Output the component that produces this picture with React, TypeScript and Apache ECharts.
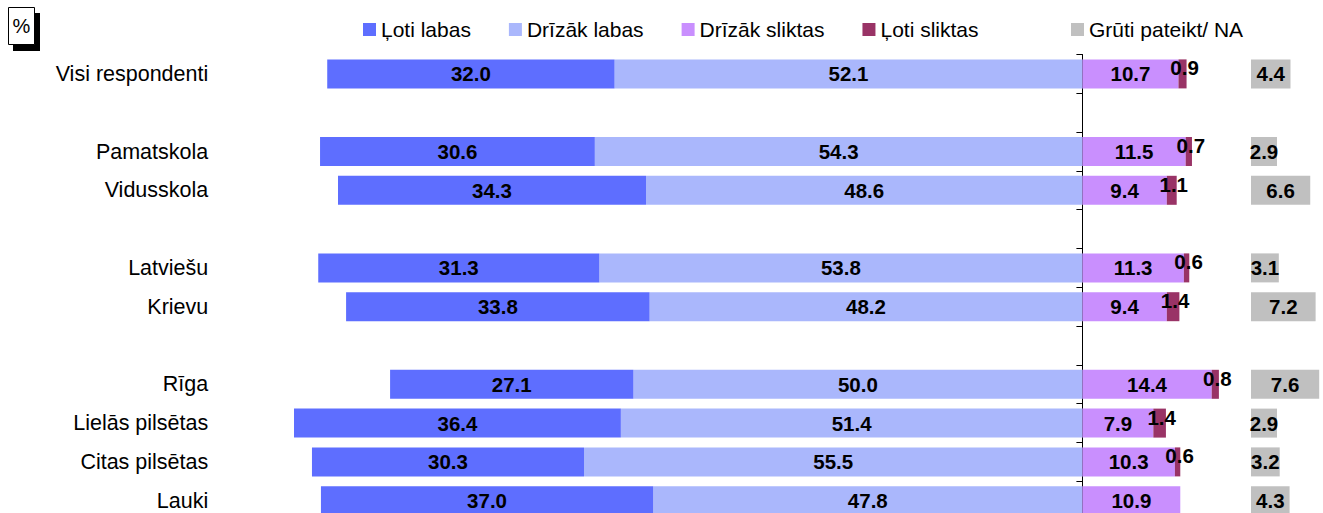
import React, { useEffect, useRef } from 'react';
import * as echarts from 'echarts';

const categories = ['Visi respondenti', ' ', 'Pamatskola', 'Vidusskola', '  ', 'Latviešu', 'Krievu', '   ', 'Rīga', 'Lielās pilsētas', 'Citas pilsētas', 'Lauki'];
const lotiLabas = [32.0, null, 30.6, 34.3, null, 31.3, 33.8, null, 27.1, 36.4, 30.3, 37.0];
const drizakLabas = [52.1, null, 54.3, 48.6, null, 53.8, 48.2, null, 50.0, 51.4, 55.5, 47.8];
const drizakSliktas = [10.7, null, 11.5, 9.4, null, 11.3, 9.4, null, 14.4, 7.9, 10.3, 10.9];
const lotiSliktas = [0.9, null, 0.7, 1.1, null, 0.6, 1.4, null, 0.8, 1.4, 0.6, null];
const grutiNA = [4.4, null, 2.9, 6.6, null, 3.1, 7.2, null, 7.6, 2.9, 3.2, 4.3];

const seriesNames = ['Ļoti labas', 'Drīzāk labas', 'Drīzāk sliktas', 'Ļoti sliktas', 'Grūti pateikt/ NA'];
const colors = ['#5E6EFF', '#AAB7FC', '#C98FFE', '#993366', '#C0C0C0'];

const FONT = "'Liberation Sans', Arial, sans-serif";

export default function App() {
  const ref = useRef<HTMLDivElement>(null);
  useEffect(() => {
    if (!ref.current) return;
    const chart = echarts.init(ref.current, null, { renderer: 'svg' });
    const neg = (arr: (number | null)[]) => arr.map((v) => (v == null ? '-' : -v));
    const pos = (arr: (number | null)[]) => arr.map((v) => (v == null ? '-' : v));
    const lbl = (extra: any = {}) => ({
      show: true,
      position: 'inside',
      color: '#000',
      fontFamily: FONT,
      fontWeight: 'bold',
      fontSize: 20.5,
      formatter: (p: any) => Math.abs(Number(p.value)).toFixed(1),
      ...extra,
    });
    const grid = { top: 54.5, height: 465.6, containLabel: false, outerBoundsMode: 'none' };
    const bar = { type: 'bar', barWidth: 29, barGap: '-100%' };
    const legendBase = {
      top: 19,
      padding: 0,
      itemWidth: 13,
      itemHeight: 13,
      icon: 'rect',
      textStyle: { fontFamily: FONT, fontSize: 21, color: '#000' },
    };
    const option: any = {
      animation: false,
      grid: [
        { left: 274.25, width: 987.75, ...grid },
        { left: 1251, width: 89.75, ...grid },
      ],
      legend: [
        { ...legendBase, data: seriesNames.slice(0, 4), left: 363, itemGap: 38 },
        { ...legendBase, data: [seriesNames[4]], left: 1071 },
      ],
      xAxis: [
        { type: 'value', gridIndex: 0, min: -90, max: 20, show: false },
        { type: 'value', gridIndex: 1, min: 0, max: 10, show: false },
      ],
      yAxis: [
        {
          type: 'category',
          gridIndex: 0,
          data: categories,
          inverse: true,
          axisLine: { show: true, onZero: true, lineStyle: { color: '#000', width: 1 } },
          axisTick: { show: true, length: 6, lineStyle: { color: '#000' } },
          axisLabel: {
            margin: 66,
            fontFamily: FONT,
            fontSize: 21.5,
            color: '#000',
          },
          splitLine: { show: false },
        },
        {
          type: 'category',
          gridIndex: 1,
          data: categories,
          inverse: true,
          show: false,
        },
      ],
      series: [
        {
          ...bar,
          name: seriesNames[1],
          stack: 'neg',
          xAxisIndex: 0,
          yAxisIndex: 0,
          itemStyle: { color: colors[1] },
          label: lbl(),
          data: neg(drizakLabas),
        },
        {
          ...bar,
          name: seriesNames[0],
          stack: 'neg',
          xAxisIndex: 0,
          yAxisIndex: 0,
          itemStyle: { color: colors[0] },
          label: lbl(),
          data: neg(lotiLabas),
        },
        {
          ...bar,
          name: seriesNames[2],
          stack: 'pos',
          xAxisIndex: 0,
          yAxisIndex: 0,
          itemStyle: { color: colors[2] },
          label: lbl(),
          data: pos(drizakSliktas),
        },
        {
          ...bar,
          name: seriesNames[3],
          stack: 'pos',
          xAxisIndex: 0,
          yAxisIndex: 0,
          itemStyle: { color: colors[3] },
          label: lbl({ offset: [2, -6] }),
          data: pos(lotiSliktas),
        },
        {
          ...bar,
          name: seriesNames[4],
          xAxisIndex: 1,
          yAxisIndex: 1,
          itemStyle: { color: colors[4] },
          label: lbl(),
          data: pos(grutiNA),
        },
      ],
      graphic: [
        { type: 'rect', shape: { x: 13, y: 13, width: 27, height: 38 }, style: { fill: '#000' } },
        { type: 'rect', shape: { x: 8.5, y: 7.5, width: 26, height: 37 }, style: { fill: '#fff', stroke: '#000', lineWidth: 1 } },
        {
          type: 'text',
          x: 21.5,
          y: 26,
          style: { text: '%', fontFamily: FONT, fontSize: 20, fill: '#000', align: 'center', verticalAlign: 'middle' },
        },
      ],
    };
    chart.setOption(option);
    return () => chart.dispose();
  }, []);
  return <div ref={ref} style={{ position: 'absolute', left: 0, top: 0, width: 1323, height: 513, overflow: 'hidden' }} />;
}
